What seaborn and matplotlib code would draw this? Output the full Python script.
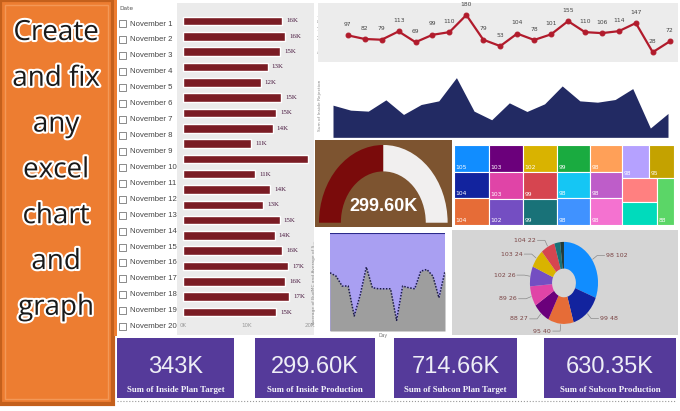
import matplotlib
matplotlib.use("Agg")
import matplotlib.pyplot as plt
import matplotlib.patheffects as pe
from matplotlib.patches import Rectangle, Wedge
from matplotlib import font_manager
import numpy as np
import seaborn as sns

# ---- data ----
dates = [f"November {i}" for i in range(1, 21)]
days = list(range(1, 21))
inside_production_k = [15.6, 16.1, 15.3, 13.3, 12.2, 15.4, 14.7, 14.1, 10.7, 19.7,
                       11.3, 13.7, 12.6, 15.2, 14.4, 15.6, 16.6, 16.1, 16.7, 14.6]
bar_ticks = [0, 10, 20]
bar_tick_labels = ["0K", "10K", "20K"]
inside_rejection = [97, 82, 79, 113, 69, 99, 110, 180, 79, 53,
                    104, 78, 101, 155, 110, 106, 114, 147, 28, 72]
budmc_avg = [100, 100, 100, 100, 100, 100, 100, 100, 100, 100,
             100, 100, 100, 100, 100, 100, 100, 100, 100, 100]
subcon_avg = [59.7, 56.3, 46.1, 46.1, 15.4, 37.2, 65.5, 44.4, 43.3, 43.3,
              43.3, 10.9, 46.1, 44.4, 43.3, 61.4, 63.1, 56.3, 34.1, 61.4]
gauge_value = 299.60
gauge_max = 599.20
gauge_label = "299.60K"
tree_values = [105, 104, 104, 103, 103, 102, 102, 99, 99, 99,
               98, 98, 98, 98, 98, 98, 95, 91, 90, 88]
tree_labels = ["105", "104", "104", "103", "103", "102", "102", "99", "99", "99",
               "98", "98", "98", "98", "98", "98", "95", "", "", "88"]
donut_cats = ["98", "99", "95", "88", "89", "102", "103", "104", "", ""]
donut_vals = [102, 48, 40, 27, 26, 26, 24, 22, 9, 6]
kpi_values = ["343K", "299.60K", "714.66K", "630.35K"]
kpi_titles = ["Sum of Inside Plan Target", "Sum of Inside Production",
              "Sum of Subcon Plan Target", "Sum of Subcon Production"]
promo_words = ["Create", "and fix", "any", "excel", "chart", "and", "graph"]

pbi = ["#118DFF", "#12239E", "#E66C37", "#6B007B", "#E044A7", "#744EC2", "#D9B300",
       "#D64550", "#197278", "#1AAB40", "#15C6F4", "#4092FF", "#FFA058", "#BE5DC9",
       "#F472D0", "#B5A1FF", "#C4A200", "#FF8080", "#00DBBC", "#5BD667"]

sns.set_theme(style="white")
plt.rcParams["font.family"] = ["DejaVu Sans"]
names = {f.name for f in font_manager.fontManager.ttflist}
narrow = "Liberation Sans Narrow" if "Liberation Sans Narrow" in names else "Liberation Sans"

W, H = 680, 411
fig = plt.figure(figsize=(6.8, 4.11), dpi=100)


def px_axes(x0, y0, x1, y1):
    return fig.add_axes([x0 / W, 1 - y1 / H, (x1 - x0) / W, (y1 - y0) / H])


# background / layout layer
bg = fig.add_axes([0, 0, 1, 1])
bg.set_xlim(0, W)
bg.set_ylim(H, 0)
bg.axis("off")

# orange promo panel
bg.add_patch(Rectangle((0, 0), 113, 404, fc="#ED7D31", ec="#c4601c", lw=3))
bg.add_patch(Rectangle((5, 5), 103, 394, fc="none", ec="#f6a468", lw=1, alpha=0.7))
for i, word in enumerate(promo_words):
    bg.text(56, 33 + i * 45.8, word, ha="center", va="center", fontsize=20,
            family="Open Sans", color="#1a1a1a",
            path_effects=[pe.withStroke(linewidth=3, foreground="white")])

# slicer
bg.add_patch(Rectangle((114, 0), 2.5, 336, fc="#ED7D31", ec="none"))
bg.text(119, 9, "Date", fontsize=4.2, color="#555", va="center")
for i, d in enumerate(dates):
    y = 24 + i * 15.93
    bg.add_patch(Rectangle((119, y - 3.5), 7, 7, fc="white", ec="#777", lw=0.6))
    bg.text(130, y, d, fontsize=5.6, family=narrow, color="#444", va="center")

# panel backgrounds
bg.add_patch(Rectangle((177, 3), 137, 332, fc="#ebebeb", ec="none"))
for (x0, x1), val, title in zip([(117, 234), (255, 375), (394, 517), (544, 676)],
                                kpi_values, kpi_titles):
    bg.add_patch(Rectangle((x0, 338), x1 - x0, 60, fc="#553a9a", ec="none"))
    bg.text((x0 + x1) / 2, 367, val, ha="center", va="center", fontsize=17,
            family=narrow, color="#eeeef6")
    bg.text((x0 + x1) / 2, 390, title, ha="center", va="center", fontsize=6.3,
            family="Liberation Serif", weight="bold", color="#f2f2f8")
bg.plot([117, 676], [401, 401], ls=":", color="#999", lw=0.8)

# ---- bar chart: inside production by date ----
axb = px_axes(177, 3, 312, 320)
sns.barplot(x=inside_production_k, y=dates, orient="h", color="#7a1c24",
            saturation=1, width=0.56, ax=axb)
axb.set_xlim(-0.945, 20.3)
axb.set_ylim(19.52, -1.175)
axb.set_facecolor("none")
axb.set_xticks(bar_ticks)
axb.set_xticklabels(bar_tick_labels)
axb.set_yticks([])
axb.tick_params(axis="x", labelsize=4, colors="#999", length=0, pad=2)
axb.set_xlabel("")
axb.set_ylabel("")
sns.despine(ax=axb, left=True, bottom=True)
labels = axb.bar_label(axb.containers[0],
                       labels=[f"{round(v)}K" for v in inside_production_k],
                       padding=3, fontsize=5, family="Liberation Serif", color="#4a1a40")
for t in labels:
    t.set_clip_box(axb.bbox)
    t.set_clip_on(True)

# ---- line chart: sum of inside rejection ----
axl = px_axes(318, 3, 678, 62)
sns.lineplot(x=days, y=inside_rejection, ax=axl, color="#b11b2c", lw=1.6,
             marker="o", markersize=3.5, markeredgecolor="#b11b2c")
axl.set_facecolor("#ececec")
axl.set_xlim(-0.755, 20.49)
axl.set_ylim(-12, 229)
axl.set_xticks([])
axl.set_yticks([])
axl.set_xlabel("")
axl.set_ylabel("")
for s in axl.spines.values():
    s.set_visible(False)
for d, v in zip(days, inside_rejection):
    axl.annotate(str(v), (d, v), xytext=(0, 6), textcoords="offset points",
                 ha="center", va="bottom", fontsize=4.3, color="#444")
bg.text(320, 32, "Sum of Inside Rej...", rotation=90, fontsize=3.2, color="#888",
        ha="center", va="center")

# ---- navy area chart ----
axa = px_axes(333, 75, 668, 138)
axa.fill_between(days, inside_rejection, color="#222a63", lw=0)
axa.set_xlim(1, 20)
axa.set_ylim(-2, 188)
axa.axis("off")
bg.text(320, 105, "Sum of Inside Rejection", rotation=90, fontsize=3.2, color="#888",
        ha="center", va="center")

# ---- gauge ----
axg = px_axes(315, 140, 452, 227)
axg.set_facecolor("#7d5430")
split = 180 - 180 * gauge_value / gauge_max
axg.add_patch(Wedge((0, 0), 1, split, 180, width=0.34, fc="#7a0b0b", ec="none"))
axg.add_patch(Wedge((0, 0), 1, 0, split, width=0.34, fc="#f1efef", ec="none"))
axg.text(0, 0.21, gauge_label, ha="center", va="center", fontsize=13,
         family="Liberation Sans", weight="bold", color="white")
axg.set_xlim(-1.062, 1.068)
axg.set_ylim(-0.055, 1.064)
axg.set_xticks([])
axg.set_yticks([])
for s in axg.spines.values():
    s.set_visible(False)


# ---- treemap (squarified) ----
def worst(row, short):
    s = sum(row)
    return max(max(short * short * r / (s * s), s * s / (short * short * r)) for r in row)


def squarify(vals, x, y, w, h):
    total = sum(vals)
    sizes = [v * w * h / total for v in vals]
    rects = []
    while sizes:
        short = min(w, h)
        row = [sizes[0]]
        i = 1
        while i < len(sizes) and worst(row + [sizes[i]], short) <= worst(row, short):
            row.append(sizes[i])
            i += 1
        sizes = sizes[i:]
        s = sum(row)
        if w >= h:
            cw = s / h
            yy = y
            for r in row:
                rects.append((x, yy, cw, r / cw))
                yy += r / cw
            x += cw
            w -= cw
        else:
            rh = s / w
            xx = x
            for r in row:
                rects.append((xx, y, r / rh, rh))
                xx += r / rh
            y += rh
            h -= rh
    return rects


axt = px_axes(454, 145, 674, 225)
for (x, y, w, h), c, lab in zip(squarify(tree_values, 0, 0, 220, 80), pbi, tree_labels):
    axt.add_patch(Rectangle((x, y), w, h, fc=c, ec="white", lw=0.8))
    axt.text(x + 1.5, y + h - 2, lab, fontsize=4.3, color="white", ha="left", va="bottom")
axt.set_xlim(0, 220)
axt.set_ylim(80, 0)
axt.axis("off")

# ---- lower-left area chart ----
axs = px_axes(330, 233, 445, 331)
axs.fill_between(days, budmc_avg, color="#a99ff2", lw=0)
axs.plot(days, budmc_avg, color="#2a2a8a", lw=1.5)
axs.fill_between(days, subcon_avg, color="#9e9e9e", lw=0)
axs.plot(days, subcon_avg, color="#1c1c48", lw=1.1, ls=(0, (1, 1)))
axs.set_xlim(1, 20)
axs.set_ylim(0, 100.5)
axs.axis("off")
bg.text(383, 335, "Day", fontsize=3.3, color="#777", ha="center", va="center")
bg.text(314, 282, "Average of BudMC and Average of S...", rotation=90, fontsize=3.2,
        color="#888", ha="center", va="center")

# ---- donut ----
axd = px_axes(452, 230, 678, 335)
donut_colors = pbi[:9] + ["#233c3a"]
wedges, _ = axd.pie(donut_vals, colors=donut_colors, startangle=90, counterclock=False,
                    radius=1, wedgeprops=dict(width=0.65, edgecolor="none"))
for wdg, cat, val in zip(wedges, donut_cats, donut_vals):
    if not cat:
        continue
    ang = np.deg2rad((wdg.theta1 + wdg.theta2) / 2)
    cx, cy = np.cos(ang), np.sin(ang)
    side = 1 if cx >= 0 else -1
    x1, y1 = 1.18 * cx, 1.18 * cy
    axd.plot([1.02 * cx, x1, x1 + side * 0.22], [1.02 * cy, y1, y1], color="#8a8a8a", lw=0.5)
    axd.text(x1 + side * 0.27, y1, f"{cat} {val}", fontsize=4.5, color="#7a4444",
             ha="left" if side > 0 else "right", va="center")
axd.set_aspect("auto")
axd.set_xlim(-3.29, 3.35)
axd.set_ylim(-1.27, 1.29)
axd.set_frame_on(True)
axd.set_facecolor("#d5d5d5")
axd.set_xticks([])
axd.set_yticks([])
for s in axd.spines.values():
    s.set_visible(False)

fig.savefig("out.png", dpi=100, facecolor="white")
